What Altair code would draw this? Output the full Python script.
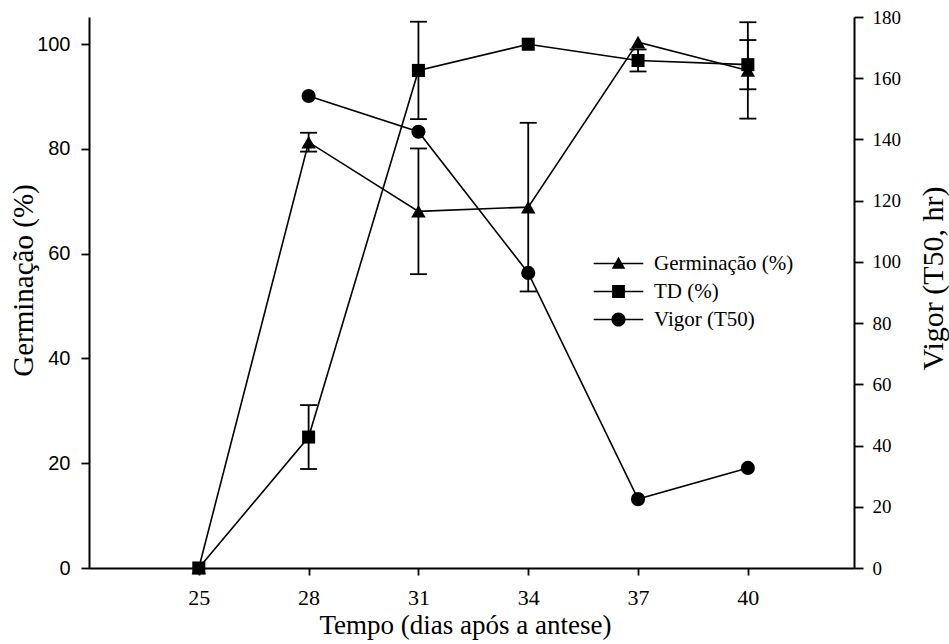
import altair as alt
import pandas as pd

# ---- data ----
days = [25, 28, 31, 34, 37, 40]
germinacao = [0, 81.3, 68.1, 68.9, 100.4, 95.0]
germinacao_err = [0, 1.8, 12.0, 16.1, 0, 9.2]
td = [0, 25.0, 95.0, 100.0, 96.9, 96.1]
td_err = [0, 6.1, 9.3, 0, 2.1, 4.7]
vigor_days = [28, 31, 34, 37, 40]
vigor = [154.2, 142.5, 96.4, 22.5, 32.7]

series_names = ["Germinação (%)", "TD (%)", "Vigor (T50)"]
x_ticks = [25, 28, 31, 34, 37, 40]
left_ticks = [0, 20, 40, 60, 80, 100]
right_ticks = [0, 20, 40, 60, 80, 100, 120, 140, 160, 180]

# ---- tables ----
germ_df = pd.DataFrame({"dia": days, "valor": germinacao, "err": germinacao_err})
td_df = pd.DataFrame({"dia": days, "valor": td, "err": td_err})
vig_df = pd.DataFrame({"dia": vigor_days, "valor": vigor})
for d in (germ_df, td_df):
    d["lo"] = d["valor"] - d["err"]
    d["hi"] = d["valor"] + d["err"]
err_df = pd.concat([germ_df, td_df])
err_df = err_df[err_df["err"] > 0]
caps_df = pd.concat([
    err_df[["dia", "lo"]].rename(columns={"lo": "y"}),
    err_df[["dia", "hi"]].rename(columns={"hi": "y"}),
])
legend_df = pd.DataFrame({"serie": series_names, "dia": [30, 30, 30], "valor": [50, 50, 50]})

SERIF = "Liberation Serif"
SANS = "Liberation Sans"

x_scale = alt.Scale(domain=[22, 42.9], nice=False, zero=False)
x_axis = alt.Axis(values=x_ticks, title="Tempo (dias após a antese)", grid=False,
                  labelFont=SERIF, labelFontSize=22, labelColor="black",
                  labelPadding=12, tickSize=7, tickWidth=1.8, tickColor="black",
                  domainColor="black", domainWidth=2,
                  titleFont=SERIF, titleFontSize=27, titleFontWeight="normal",
                  titleColor="black", titleX=376, titleY=57,
                  titleBaseline="middle", titleAlign="center")
xenc = alt.X("dia:Q", scale=x_scale, axis=x_axis)

left_scale = alt.Scale(domain=[0, 105.2], nice=False, zero=True)
left_axis = alt.Axis(values=left_ticks, title="Germinação (%)", grid=False,
                     labelFont=SANS, labelFontSize=20, labelColor="black",
                     labelPadding=11, tickSize=8, tickWidth=1.8, tickColor="black",
                     domainColor="black", domainWidth=2,
                     titleFont=SERIF, titleFontSize=29, titleFontWeight="normal",
                     titleColor="black", titleX=-66, titleY=263, titleAngle=270,
                     titleBaseline="middle", titleAlign="center")
right_scale = alt.Scale(domain=[0, 180], nice=False, zero=True)
right_axis = alt.Axis(values=right_ticks, title="Vigor (T50, hr)", grid=False, orient="right",
                      labelFont=SERIF, labelFontSize=19, labelColor="black",
                      labelPadding=9, tickSize=9, tickWidth=1.8, tickColor="black",
                      domainColor="black", domainWidth=2,
                      titleFont=SERIF, titleFontSize=30, titleFontWeight="normal",
                      titleColor="black", titleX=79, titleY=261, titleAngle=270,
                      titleBaseline="middle", titleAlign="center")

yl = alt.Y("valor:Q", scale=left_scale, axis=left_axis)

germ_line = alt.Chart(germ_df).mark_line(color="black", strokeWidth=1.6).encode(x=xenc, y=yl)
td_line = alt.Chart(td_df).mark_line(color="black", strokeWidth=1.6).encode(x=xenc, y=yl)
err_rule = alt.Chart(err_df).mark_rule(color="black", strokeWidth=1.8).encode(
    x=xenc, y=alt.Y("lo:Q", scale=left_scale, axis=left_axis), y2="hi:Q")
err_caps = alt.Chart(caps_df).mark_tick(color="black", orient="horizontal", size=17,
                                        thickness=1.8, opacity=1).encode(
    x=xenc, y=alt.Y("y:Q", scale=left_scale, axis=left_axis))
germ_pts = alt.Chart(germ_df).mark_point(shape="triangle-up", filled=True, size=210,
                                         color="black", opacity=1).encode(x=xenc, y=yl)
td_pts = alt.Chart(td_df).mark_point(shape="square", filled=True, size=170,
                                     color="black", opacity=1).encode(x=xenc, y=yl)

# legend symbols: a horizontal line (thin filled bar) through the marker
bar = "M-3.1,-0.1L3.1,-0.1L3.1,0.1L-3.1,0.1Z"
tri_path = bar + "M0,-0.85L0.85,0.65L-0.85,0.65Z"
sq_path = bar + "M-0.8,-0.8L0.8,-0.8L0.8,0.8L-0.8,0.8Z"
circ_path = bar + "M-0.88,0A0.88,0.88,0,1,1,0.88,0A0.88,0.88,0,1,1,-0.88,0Z"

legend_layer = alt.Chart(legend_df).transform_filter("false").mark_point(
    filled=True, color="black", opacity=1).encode(
    x=xenc, y=yl,
    shape=alt.Shape("serie:N",
                    scale=alt.Scale(domain=series_names, range=[tri_path, sq_path, circ_path]),
                    legend=alt.Legend(orient="none", legendX=519, legendY=236, title=None,
                                      labelFont=SERIF, labelFontSize=21, labelColor="black",
                                      labelOffset=25, symbolSize=256, symbolStrokeWidth=0,
                                      symbolFillColor="black", symbolStrokeColor="black",
                                      symbolOpacity=1, rowPadding=6, padding=0)))

left = alt.layer(germ_line, td_line, err_rule, err_caps, germ_pts, td_pts, legend_layer)

yr = alt.Y("valor:Q", scale=right_scale, axis=right_axis)
vig_line = alt.Chart(vig_df).mark_line(color="black", strokeWidth=1.6).encode(x=xenc, y=yr)
vig_pts = alt.Chart(vig_df).mark_point(shape="circle", filled=True, size=200,
                                       color="black", opacity=1).encode(x=xenc, y=yr)
right = alt.layer(vig_line, vig_pts)

chart = alt.layer(left, right).resolve_scale(y="independent", shape="independent").properties(
    width=765, height=551,
    autosize=alt.AutoSizeParams(type="none"),
    padding={"left": 89, "top": 17, "right": 95, "bottom": 76},
    background="white",
).configure_view(stroke=None)

chart.save("out.html", embed_options={"renderer": "svg", "actions": False})
